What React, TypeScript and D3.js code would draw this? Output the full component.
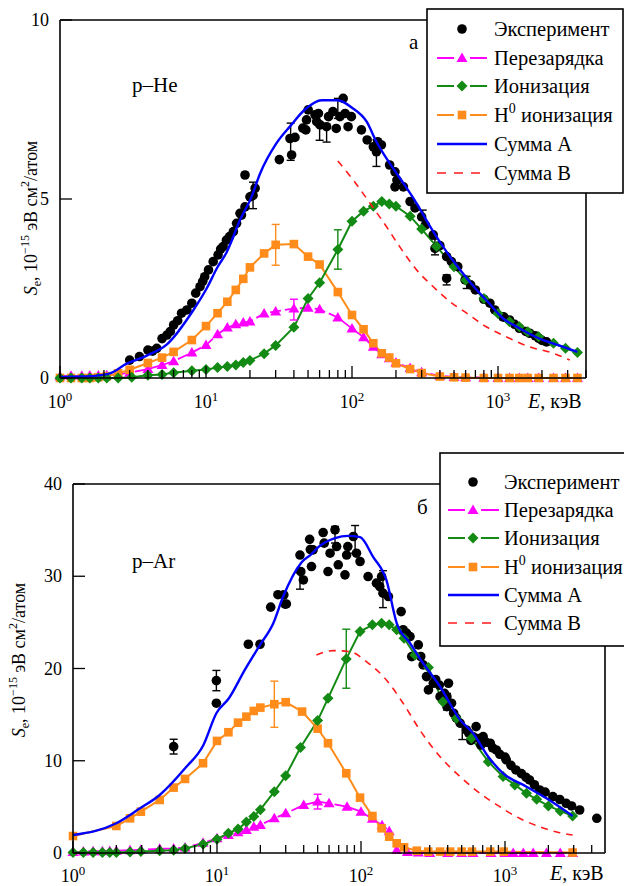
import React from 'react';
import * as d3 from 'd3';

type P = [number, number];
type EB = [number, number, number];

// ---------- p–He (panel а) ----------
const heExp: P[] = [
  [3.0,0.5],[3.5,0.6],[4.0,0.78],[4.3,0.75],[4.6,0.83],[5.0,1.1],[5.4,1.2],[5.7,1.3],[6.0,1.48],[6.4,1.6],
  [6.8,1.81],[7.4,1.9],[8.0,2.09],[8.5,2.37],[9.1,2.55],[9.5,2.7],[9.8,2.83],[10.4,3.02],[11.2,3.25],[12.1,3.44],
  [12.6,3.6],[13.1,3.67],[13.8,3.85],[14.5,3.95],[15.4,4.09],[16.2,4.32],[17.1,4.6],[17.5,4.55],[18.5,4.78],[18.5,5.67],
  [20,5.06],[21,5.1],[21.7,5.3],[31.8,6.1],[37.6,6.69],[38.6,6.23],[40.7,6.72],[46,6.98],[48.3,6.93],[48.8,7.21],
  [50.1,7.49],[55.8,7.35],[57.3,7.16],[58.9,7.39],[60.5,7.07],[67,7.02],[69.1,7.3],[74,7.44],[78,6.97],[82.6,7.3],
  [87,7.81],[89.7,7.39],[94,7.02],[99,7.3],[116,6.93],[127,6.65],[140,6.46],[147,6.32],[150,6.6],[159,6.51],
  [181,5.95],[197,5.76],[203,5.53],[197,5.34],[225,5.34],[250,4.93],[270,4.75],[300,4.5],[318,4.27],[360,4.0],
  [370,3.62],[400,3.7],[445,3.39],[445,2.78],[480,3.25],[530,3.11],[595,2.74],[650,2.6],[700,2.46],[800,2.2],
  [880,2.09],[950,1.9],[1080,1.71],[1100,1.7],[1200,1.62],[1300,1.5],[1400,1.39],[1550,1.3],[1650,1.25],[1800,1.18],
  [1900,1.11],[2000,1.05],[2150,1.01]
];
const heExpErr: EB[] = [
  [21,5.1,0.37],[38,6.6,0.52],[60,6.83,0.19],[67,6.78,0.19],[80,7.53,0.28],[147,6.28,0.37],
  [305,4.44,0.25],[370,3.66,0.22],[445,2.74,0.14],[610,2.67,0.17]
];
const heCharge: P[] = [
  [1,0.05],[1.19,0.06],[1.41,0.06],[1.6,0.07],[1.83,0.07],[2.09,0.08],[2.5,0.1],[3.0,0.15],[4.0,0.25],[5.0,0.36],
  [6.0,0.47],[8.0,0.71],[10,0.92],[12,1.22],[14,1.41],[16,1.5],[18,1.55],[20,1.58],[25,1.8],[30,1.86],
  [40,1.94],[50,1.96],[60,1.92],[80,1.69],[100,1.38],[120,1.14],[140,0.87],[160,0.66],[180,0.55],[200,0.43],
  [250,0.28],[300,0.16],[400,0.06],[500,0.03],[600,0.02],[800,0.01],[1000,0],[1200,0],[1400,0],[1600,0],
  [1900,0],[2400,0],[2900,0],[3500,0]
];
const heChargeErr: EB[] = [[40,1.91,0.29]];
const heIon: P[] = [
  [1,0],[1.19,0],[1.41,0],[1.6,0],[1.83,0],[2.09,0],[2.5,0],[3.1,0.02],[4.0,0.08],[5.0,0.1],
  [6.0,0.15],[8.0,0.2],[10,0.24],[12,0.29],[14,0.32],[16,0.36],[18,0.43],[20,0.49],[25,0.68],[30,0.91],
  [40,1.42],[50,2.22],[60,2.66],[80,3.59],[100,4.38],[120,4.66],[140,4.8],[160,4.93],[180,4.86],[200,4.8],
  [250,4.52],[300,4.16],[380,3.67],[500,3.11],[600,2.74],[800,2.22],[1000,1.8],[1200,1.57],[1400,1.43],[1600,1.29],
  [1900,1.15],[2400,0.97],[2900,0.83],[3500,0.71]
];
const heIonErr: EB[] = [[80,3.59,0.55]];
const heH0: P[] = [
  [1,0],[1.19,0],[1.41,0],[1.6,0],[1.83,0.02],[2.09,0.05],[2.5,0.13],[3.0,0.23],[4.0,0.42],[5.0,0.57],
  [6.0,0.73],[8.0,1.06],[10,1.45],[12,1.81],[14,2.13],[16,2.46],[18,2.77],[20,3.09],[25,3.48],[30,3.72],
  [40,3.74],[50,3.39],[60,3.17],[80,2.4],[100,1.76],[120,1.36],[140,0.97],[160,0.69],[180,0.57],[200,0.41],
  [250,0.25],[300,0.14],[400,0.04],[500,0.02],[600,0.01],[800,0],[1000,0],[1200,0],[1400,0],[1600,0],
  [1900,0],[2400,0],[2900,0],[3500,0]
];
const heH0Err: EB[] = [[30,3.72,0.57]];
const heSumA: P[] = [
  [1,0.03],[1.5,0.04],[1.9,0.08],[2.2,0.13],[2.86,0.4],[3.9,0.62],[5.4,0.94],[8.2,1.9],[10.1,2.5],[12,3.1],
  [13.8,3.5],[17.1,4.41],[20.5,5.06],[23.4,5.7],[30.4,6.56],[38,7.05],[47.6,7.5],[62,7.76],[80,7.76],[100,7.55],
  [126,7.16],[147,6.6],[181,6.0],[225,5.44],[277,4.88],[343,4.23],[440,3.55],[560,2.98],[700,2.5],[830,2.18],
  [1080,1.67],[1400,1.39],[1900,1.11],[2800,0.87],[3500,0.73]
];
const heSumB: P[] = [
  [80,6.06],[102,5.53],[133,4.88],[172,4.23],[212,3.67],[277,3.02],[360,2.55],[470,2.13],[610,1.81],[830,1.43],
  [1140,1.15],[1650,0.87],[2400,0.69],[3100,0.5]
];
const heYTicks = [0, 5, 10];

// ---------- p–Ar (panel б) ----------
const arExp: P[] = [
  [5.0,11.53],[9.9,18.69],[9.9,16.24],[16.5,22.63],[19.9,22.63],[23.6,26.65],[26.5,28.0],[29.1,27.98],[29.7,26.97],[30.3,27.0],
  [37.7,32.3],[38.2,30.5],[39.8,29.6],[44,34.0],[44.5,32.9],[45.3,31.05],[46.5,32.86],[54.6,34.74],[55.5,33.59],[59,30.51],
  [61,32.5],[66,35.03],[67.7,33.22],[69.5,31.24],[77.4,30.15],[79.5,32.3],[81,33.22],[88.5,34.31],[93,32.5],[98.5,31.6],
  [112,29.97],[128,29.25],[135,28.88],[139,29.97],[142,28.17],[155,27.8],[190,26.17],[196,24.2],[207,23.83],[219,23.46],
  [225,21.29],[250,22.56],[260,21.3],[270,20.39],[285,19.12],[294,17.68],[318,18.4],[330,18.8],[350,18.2],[354,16.95],
  [380,17.3],[395,15.87],[395,16.95],[405,18.4],[425,16.24],[440,15.15],[460,14.61],[488,14.07],[540,13.34],[560,13.0],
  [580,12.2],[600,12.6],[630,13.7],[660,12.4],[680,11.7],[705,12.61],[740,12.0],[790,11.9],[820,11.4],[870,11.17],
  [920,10.7],[1000,10.4],[1020,10.09],[1100,9.5],[1190,9.0],[1300,8.6],[1400,8.2],[1480,7.92],[1600,7.4],[1740,6.83],
  [1900,6.6],[2150,6.11],[2400,5.8],[2660,5.39],[2900,5.1],[3300,4.66],[4340,3.76]
];
const arExpErr: EB[] = [
  [5,11.53,0.8],[9.9,18.69,1.1],[37.7,29.5,0.9],[66,34.5,0.9],[91,34.0,1.5],[142,28.6,2.0],[395,16.4,0.9],[505,13.0,0.7]
];
const arCharge: P[] = [
  [1,0.1],[1.18,0.15],[1.38,0.2],[1.6,0.2],[1.8,0.22],[2.0,0.25],[2.49,0.3],[2.96,0.35],[4,0.45],[5,0.5],
  [6,0.6],[8,1.1],[10,1.59],[12,1.95],[14,2.24],[16,2.49],[18,2.85],[20,3.04],[25,3.76],[30,4.3],
  [40,5.2],[50,5.57],[60,5.39],[80,5.02],[100,4.48],[120,3.7],[140,3.0],[157,2.35],[177,0.33],[210,0.1],
  [250,0.05],[300,0],[400,0],[500,0],[600,0],[800,0],[1000,0],[1140,0],[1340,0],[1570,0],
  [1940,0],[2420,0],[2950,0]
];
const arChargeErr: EB[] = [[50,5.57,0.8]];
const arIon: P[] = [
  [1,0.05],[1.18,0.05],[1.38,0.05],[1.6,0.05],[1.8,0.05],[2,0.05],[2.49,0.1],[2.96,0.15],[4,0.25],[5,0.3],
  [6,0.5],[8,0.94],[10,1.5],[12,2.15],[14,2.6],[16,3.36],[18,3.97],[20,4.7],[25,6.65],[30,8.37],
  [38,11.44],[50,14.35],[59,16.77],[79,21.04],[98.5,24.0],[120,24.73],[139,24.91],[157,24.73],[177,24.19],[199,23.28],
  [237,21.47],[294,20.1],[370,16.4],[460,14.6],[585,12.44],[765,9.9],[970,8.28],[1170,7.38],[1410,6.47],[1660,5.82],
  [2000,5.1],[2420,4.56],[2950,4.01]
];
const arIonErr: EB[] = [[79,21.06,3.2]];
const arH0: P[] = [
  [1,1.84],[2,2.93],[2.49,3.76],[2.96,4.48],[4,5.75],[5,7.09],[6,8.03],[8,9.73],[10,12.15],[12,13.09],
  [14,14.13],[16,14.78],[18,15.4],[20,15.76],[25,16.13],[30,16.35],[39,15.33],[50,13.48],[59,11.9],[79,8.64],
  [98.5,6.0],[120,4.01],[139,2.68],[157,1.77],[177,1.05],[199,0.62],[244,0.25],[293,0.15],[354,0.15],[416,0.15],
  [500,0.15],[590,0.15],[790,0.15],[980,0.15],[2950,0.05]
];
const arH0Err: EB[] = [[25,16.13,2.5]];
const arSumA: P[] = [
  [1,1.95],[2,3.22],[2.92,4.84],[4,6.29],[6,9.18],[8.05,11.71],[9.9,15.15],[12.1,16.77],[15.6,19.85],[19.9,22.56],
  [24.6,24.91],[28.8,27.8],[38.6,31.5],[45.3,32.4],[50.5,33.15],[66,34.13],[81.5,34.38],[98.5,34.24],[121,32.14],[150,29.6],
  [177,24.91],[219,22.74],[270,20.57],[354,18.04],[488,14.43],[600,12.98],[765,10.44],[970,8.64],[1410,7.19],[1940,5.93],
  [2950,4.01]
];
const arSumB: P[] = [
  [49,21.47],[64,21.94],[84,21.83],[109,20.75],[150,18.76],[196,16.24],[256,13.34],[354,10.44],[488,8.28],[670,6.47],
  [920,5.02],[1260,3.76],[1740,2.85],[2400,2.2],[2950,1.95]
];
const arYTicks = [0, 10, 20, 30, 40];

const xDecades = [0, 1, 2, 3];
const legendLabels = ['Эксперимент', 'Перезарядка', 'Ионизация', 'H0 ионизация', 'Сумма А', 'Сумма В'];

const C = {
  exp: '#000000',
  charge: '#ff00ff',
  ion: '#138a13',
  h0: '#ff8c1a',
  sumA: '#0000ff',
  sumB: '#ff1a1a',
};
const FONT = "'Liberation Serif', 'Times New Roman', Tinos, 'DejaVu Serif', serif";

type Kind = 'circle' | 'square' | 'triangle' | 'diamond';

function Marker({ kind, x, y, color }: { kind: Kind; x: number; y: number; color: string }) {
  if (kind === 'circle') return <circle cx={x} cy={y} r={4.8} fill={color} />;
  if (kind === 'square') return <rect x={x - 4.3} y={y - 4.3} width={8.6} height={8.6} fill={color} />;
  if (kind === 'triangle')
    return <path d={`M${x},${y - 5.5}L${x + 5.5},${y + 4}L${x - 5.5},${y + 4}Z`} fill={color} />;
  return <path d={`M${x},${y - 5.5}L${x + 5.5},${y}L${x},${y + 5.5}L${x - 5.5},${y}Z`} fill={color} />;
}

interface PanelProps {
  left: number; right: number; top: number; bottom: number;
  xMax: number; yMax: number; yTicks: number[];
  exp: P[]; expErr: EB[];
  charge: P[]; chargeErr: EB[];
  ion: P[]; ionErr: EB[];
  h0: P[]; h0Err: EB[];
  sumA: P[]; sumB: P[];
  legend: { x: number; y: number; w: number; h: number; mx: number; l0: number; l1: number; tx: number; rows: number[]; fs: number };
  label: string; labelX: number; labelY: number;
  letter: string; letterX: number; letterY: number;
  yLabelRight: number; titleX: number; titleY: number;
  xLabelY: number; eLabelX: number; eLabelY: number;
}

function ErrBars({ data, x, y, color }: { data: EB[]; x: any; y: any; color: string }) {
  return (
    <g stroke={color} strokeWidth={1.4}>
      {data.map(([e, s, d], i) => {
        const cx = x(e);
        const y0 = y(s - d), y1 = y(s + d);
        return (
          <g key={i}>
            <line x1={cx} x2={cx} y1={y0} y2={y1} />
            <line x1={cx - 4} x2={cx + 4} y1={y0} y2={y0} />
            <line x1={cx - 4} x2={cx + 4} y1={y1} y2={y1} />
          </g>
        );
      })}
    </g>
  );
}

function Panel(p: PanelProps) {
  const x = d3.scaleLog().domain([1, p.xMax]).range([p.left, p.right]);
  const y = d3.scaleLinear().domain([0, p.yMax]).range([p.bottom, p.top]);
  const line = d3.line<P>().x((d) => x(d[0])).y((d) => y(d[1]));
  const curve = d3.line<P>().x((d) => x(d[0])).y((d) => y(d[1])).curve(d3.curveMonotoneX);

  const minor: number[] = [];
  for (let dec = 0; dec < 4; dec++) {
    for (let m = 2; m <= 9; m++) {
      const v = m * Math.pow(10, dec);
      if (v < p.xMax) minor.push(v);
    }
  }

  const L = p.legend;
  const markerSeries: { kind: Kind; color: string }[] = [
    { kind: 'triangle', color: C.charge },
    { kind: 'diamond', color: C.ion },
    { kind: 'square', color: C.h0 },
  ];

  return (
    <g style={{ fontFamily: FONT }}>
      <path d={line(p.charge) || ''} fill="none" stroke={C.charge} strokeWidth={1.8} strokeDasharray="11,4" />
      <path d={line(p.h0) || ''} fill="none" stroke={C.h0} strokeWidth={2} />
      <path d={line(p.ion) || ''} fill="none" stroke={C.ion} strokeWidth={2} />
      {p.exp.map((d, i) => (
        <Marker key={'e' + i} kind="circle" x={x(d[0])} y={y(d[1])} color={C.exp} />
      ))}
      <ErrBars data={p.expErr} x={x} y={y} color={C.exp} />
      {p.charge.map((d, i) => (
        <Marker key={'c' + i} kind="triangle" x={x(d[0])} y={y(d[1])} color={C.charge} />
      ))}
      {p.h0.map((d, i) => (
        <Marker key={'h' + i} kind="square" x={x(d[0])} y={y(d[1])} color={C.h0} />
      ))}
      {p.ion.map((d, i) => (
        <Marker key={'i' + i} kind="diamond" x={x(d[0])} y={y(d[1])} color={C.ion} />
      ))}
      <ErrBars data={p.chargeErr} x={x} y={y} color={C.charge} />
      <ErrBars data={p.h0Err} x={x} y={y} color={C.h0} />
      <ErrBars data={p.ionErr} x={x} y={y} color={C.ion} />
      <path d={curve(p.sumA) || ''} fill="none" stroke={C.sumA} strokeWidth={2.4} />
      <path d={curve(p.sumB) || ''} fill="none" stroke={C.sumB} strokeWidth={1.6} strokeDasharray="7,6" />

      <g stroke="#000" strokeWidth={1.6} fill="none">
        <line x1={p.left} x2={p.left} y1={p.top} y2={p.bottom} />
        <line x1={p.left} x2={p.right} y1={p.bottom} y2={p.bottom} />
        <line x1={p.left} x2={L.x} y1={p.top} y2={p.top} />
        <line x1={p.right} x2={p.right} y1={L.y + L.h} y2={p.bottom} />
      </g>
      <g stroke="#000" strokeWidth={1.3}>
        {xDecades.map((d) => (
          <line key={'M' + d} x1={x(Math.pow(10, d))} x2={x(Math.pow(10, d))} y1={p.bottom} y2={p.bottom - 12} />
        ))}
        {minor.map((v) => (
          <line key={'m' + v} x1={x(v)} x2={x(v)} y1={p.bottom} y2={p.bottom - 8} />
        ))}
        {p.yTicks.map((t) => (
          <line key={'y' + t} x1={p.left} x2={p.left + 12} y1={y(t)} y2={y(t)} />
        ))}
      </g>
      <g fontSize={18} fill="#000">
        {xDecades.map((d) => (
          <text key={'xl' + d} x={x(Math.pow(10, d))} y={p.xLabelY} textAnchor="middle">
            10<tspan fontSize={13} dy={-7}>{d}</tspan>
          </text>
        ))}
        {p.yTicks.map((t) => (
          <text key={'yl' + t} x={p.yLabelRight} y={y(t) + 6} textAnchor="end">{t}</text>
        ))}
        <text x={p.eLabelX} y={p.eLabelY} fontSize={20}>
          <tspan fontStyle="italic">E</tspan>, кэВ
        </text>
        <text transform={`translate(${p.titleX},${p.titleY}) rotate(-90)`} textAnchor="middle">
          <tspan fontStyle="italic">S</tspan>
          <tspan fontSize={12} dy={4}>e</tspan>
          <tspan dy={-4}>, 10</tspan>
          <tspan fontSize={12} dy={-8}>−15</tspan>
          <tspan dy={8}> эВ см</tspan>
          <tspan fontSize={12} dy={-8}>2</tspan>
          <tspan dy={8}>/атом</tspan>
        </text>
        <text x={p.labelX} y={p.labelY} fontSize={21}>{p.label}</text>
        <text x={p.letterX} y={p.letterY} fontSize={21}>{p.letter}</text>
      </g>

      <g>
        <rect x={L.x} y={L.y} width={L.w} height={L.h} fill="#fff" stroke="#000" strokeWidth={1.6} />
        <circle cx={L.mx} cy={L.rows[0]} r={4.8} fill={C.exp} />
        {markerSeries.map((s, i) => (
          <g key={'lg' + i}>
            <line x1={L.l0} x2={L.mx - 8} y1={L.rows[i + 1]} y2={L.rows[i + 1]} stroke={s.color} strokeWidth={2} />
            <line x1={L.mx + 8} x2={L.l1} y1={L.rows[i + 1]} y2={L.rows[i + 1]} stroke={s.color} strokeWidth={2} />
            <Marker kind={s.kind} x={L.mx} y={L.rows[i + 1]} color={s.color} />
          </g>
        ))}
        <line x1={L.l0} x2={L.l1} y1={L.rows[4]} y2={L.rows[4]} stroke={C.sumA} strokeWidth={2.4} />
        <line x1={L.l0} x2={L.l1} y1={L.rows[5]} y2={L.rows[5]} stroke={C.sumB} strokeWidth={1.6} strokeDasharray="9,8" />
        <g fontSize={L.fs} fill="#000">
          {legendLabels.map((t, i) => (
            <text key={'lt' + i} x={L.tx} y={L.rows[i] + 7}>
              {i === 3 ? (
                <>
                  H<tspan fontSize={14} dy={-9}>0</tspan>
                  <tspan dy={9}> ионизация</tspan>
                </>
              ) : (
                t
              )}
            </text>
          ))}
        </g>
      </g>
    </g>
  );
}

export default function App() {
  return (
    <svg
      width={624}
      height={886}
      viewBox="0 0 624 886"
      style={{ position: 'absolute', left: 0, top: 0, background: '#fff', fontFamily: FONT }}
    >
      <rect x={0} y={0} width={624} height={886} fill="#fff" />
      <Panel
        left={60} right={586} top={20} bottom={378}
        xMax={Math.pow(10, 526 / 146)} yMax={10} yTicks={heYTicks}
        exp={heExp} expErr={heExpErr}
        charge={heCharge} chargeErr={heChargeErr}
        ion={heIon} ionErr={heIonErr}
        h0={heH0} h0Err={heH0Err}
        sumA={heSumA} sumB={heSumB}
        legend={{ x: 427, y: 9, w: 196, h: 184, mx: 462, l0: 437, l1: 487, tx: 494, rows: [29, 58, 86, 115, 144, 173], fs: 20.5 }}
        label="p–He" labelX={132} labelY={92}
        letter="а" letterX={409} letterY={49}
        yLabelRight={49} titleX={37} titleY={218}
        xLabelY={408} eLabelX={528} eLabelY={408}
      />
      <Panel
        left={73} right={605} top={484} bottom={853}
        xMax={Math.pow(10, 532 / 144)} yMax={40} yTicks={arYTicks}
        exp={arExp} expErr={arExpErr}
        charge={arCharge} chargeErr={arChargeErr}
        ion={arIon} ionErr={arIonErr}
        h0={arH0} h0Err={arH0Err}
        sumA={arSumA} sumB={arSumB}
        legend={{ x: 440, y: 453, w: 230, h: 193, mx: 473, l0: 448, l1: 499, tx: 504, rows: [482, 510, 538, 567, 595, 623], fs: 20.5 }}
        label="p–Ar" labelX={132} labelY={568}
        letter="б" letterX={417} letterY={514}
        yLabelRight={62} titleX={25} titleY={660}
        xLabelY={882} eLabelX={550} eLabelY={880}
      />
    </svg>
  );
}
